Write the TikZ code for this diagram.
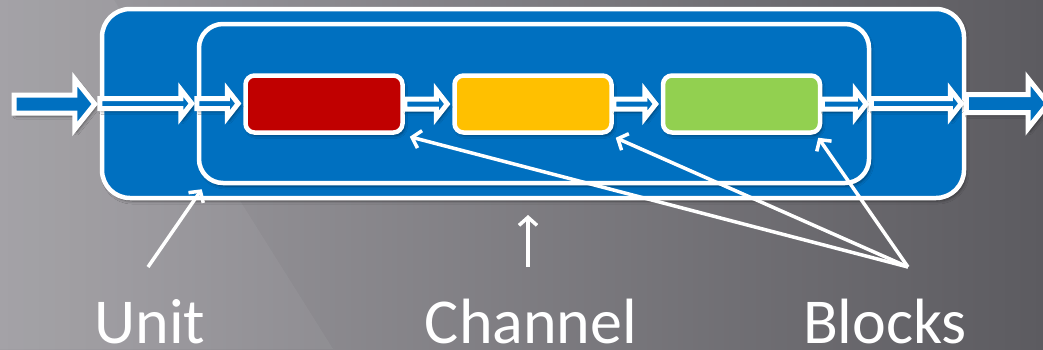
\documentclass[tikz,border=0pt]{standalone}
\usepackage{fontspec}
\setmainfont{Carlito}
\usetikzlibrary{arrows.meta,calc,shadows.blur}

\definecolor{unitblue}{HTML}{0070C0}
\definecolor{blkred}{HTML}{C00000}
\definecolor{blkyellow}{HTML}{FFC000}
\definecolor{blkgreen}{HTML}{92D050}
\definecolor{bgleft}{HTML}{A09EA3}
\definecolor{bgright}{HTML}{5C5B60}

\tikzset{
  softshadow/.style={blur shadow={shadow xshift=2pt, shadow yshift=-3pt,
      shadow opacity=45, shadow blur steps=6, shadow blur radius=3pt}},
  panel/.style={draw=white, line width=4.5pt, inner sep=0pt,
      rounded corners=#1, softshadow},
  unitbox/.style={panel=28pt, fill=unitblue,
      minimum width=862pt, minimum height=189pt},
  chanbox/.style={panel=24pt, fill=unitblue,
      minimum width=670pt, minimum height=159pt},
  blockbox/.style={panel=9pt, fill=#1,
      minimum width=157pt, minimum height=57pt},
  % horizontal block arrow: shaft half-height, head half-height, head length
  flowarrow/.style n args={3}{draw=white, fill=unitblue, line width=5pt,
      line join=miter, miter limit=10, softshadow,
      to path={let \p1=(\tikztostart), \p2=(\tikztotarget) in
        (\x1,\y1+#1) -- (\x2-5pt-#3,\y1+#1) -- (\x2-5pt-#3,\y1+#2)
        -- (\x2-5pt,\y1) -- (\x2-5pt-#3,\y1-#2) -- (\x2-5pt-#3,\y1-#1)
        -- (\x1,\y1-#1) -- cycle}},
  bigflow/.style={flowarrow={9pt}{25pt}{20pt}},
  smallflow/.style={flowarrow={5pt}{14pt}{11pt}},
  pointer/.style={draw=white, line width=3.5pt,
      -{Straight Barb[length=8pt,width=18pt]}},
  caption/.style={text=white, font=\fontsize{64}{64}\selectfont,
      inner sep=0pt, anchor=base}
}

\begin{document}
\begin{tikzpicture}[x=1pt,y=-1pt]
  \useasboundingbox (0,0) rectangle (1043,349);

  % backdrop with a faint lighter streak at the lower left
  \shade[left color=bgleft, right color=bgright] (0,0) rectangle (1043,349);
  \fill[white, opacity=0.05] (0,0) -- (114,0) -- (333,349) -- (0,349) -- cycle;

  % unit and channel containers
  \node[unitbox] (unit) at (533,103.5) {};
  \node[chanbox] (channel) at (534,103.5) {};

  % free ends of the outer arrows
  \coordinate (inL) at (14,104);
  \coordinate (outR) at (1053,104);

  % data flow
  \draw[bigflow]   (inL) to (unit.west);
  \draw[smallflow] (unit.west) to (channel.west);

  % processing blocks
  \node[blockbox=blkred]    (b1) at (324,104)   {};
  \node[blockbox=blkyellow] (b2) at (533,104)   {};
  \node[blockbox=blkgreen]  (b3) at (741.5,104) {};

  \draw[smallflow] (channel.west) to (b1.west);
  \draw[smallflow] (b1.east) to (b2.west);
  \draw[smallflow] (b2.east) to (b3.west);
  \draw[smallflow] (b3.east) to (channel.east);
  \draw[smallflow] (channel.east) to (unit.east);
  \draw[bigflow]   (unit.east) to (outR);

  % captions
  \node[caption] (lunit)    at (150,343) {Unit};
  \node[caption] (lchannel) at (531,343) {Channel};
  \node[caption] (lblocks)  at (885,343) {Blocks};

  % pointer origins and targets
  \coordinate (pu)  at (148,267);
  \coordinate (pc)  at (528,267);
  \coordinate (pb)  at (908,267);
  \coordinate (tu)  at ($(channel.south west)+(5,4)$);
  \coordinate (tc)  at (528,215);
  \coordinate (tb1) at ($(b1.south east)+(5,2)$);
  \coordinate (tb2) at ($(b2.south east)+(2,3)$);
  \coordinate (tb3) at ($(b3.south east)+(-4,3)$);

  \draw[pointer] (pu) -- (tu);
  \draw[pointer] (pc) -- (tc);
  \draw[pointer] (pb) -- (tb1);
  \draw[pointer] (pb) -- (tb2);
  \draw[pointer] (pb) -- (tb3);
\end{tikzpicture}
\end{document}
